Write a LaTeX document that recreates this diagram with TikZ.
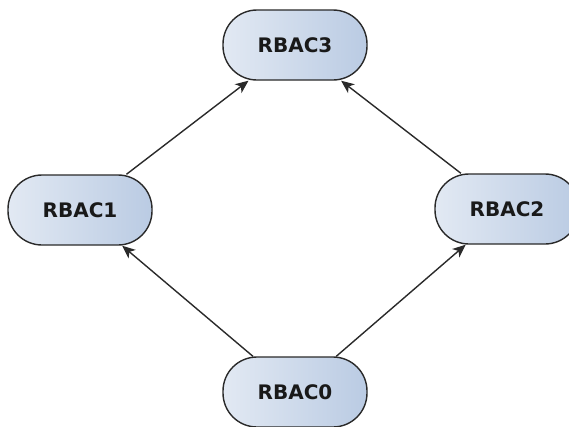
\documentclass[tikz,border=0pt]{standalone}
\usepackage{fontspec}
\setmainfont{DejaVu Sans}
\usetikzlibrary{arrows.meta}
\definecolor{edgegray}{HTML}{2A2A2A}
\definecolor{fillleft}{HTML}{E2E9F3}
\definecolor{fillright}{HTML}{BACBE3}
\tikzset{
  rolebox/.style={
    draw=edgegray, line width=1.4pt,
    rectangle, rounded corners=34pt,
    minimum width=144pt, minimum height=70pt,
    left color=fillleft, right color=fillright,
    font=\fontsize{20}{24}\selectfont\bfseries, text=black!90
  },
  inherit/.style={
    draw=edgegray, line width=1.4pt,
    -{Stealth[length=13pt,width=11pt,inset=3.5pt]}
  }
}
\begin{document}
\begin{tikzpicture}[x=1pt,y=-1pt]
  \useasboundingbox (0,0) rectangle (569,426);
  \node[rolebox] (r3) at (295,45)  {RBAC3};
  \node[rolebox] (r1) at (80,210)  {RBAC1};
  \node[rolebox] (r2) at (507,209) {RBAC2};
  \node[rolebox] (r0) at (295,392) {RBAC0};
  \draw[inherit] (r1) -- (r3);
  \draw[inherit] (r2) -- (r3);
  \draw[inherit] (r0) -- (r1);
  \draw[inherit] (r0) -- (r2);
\end{tikzpicture}
\end{document}
